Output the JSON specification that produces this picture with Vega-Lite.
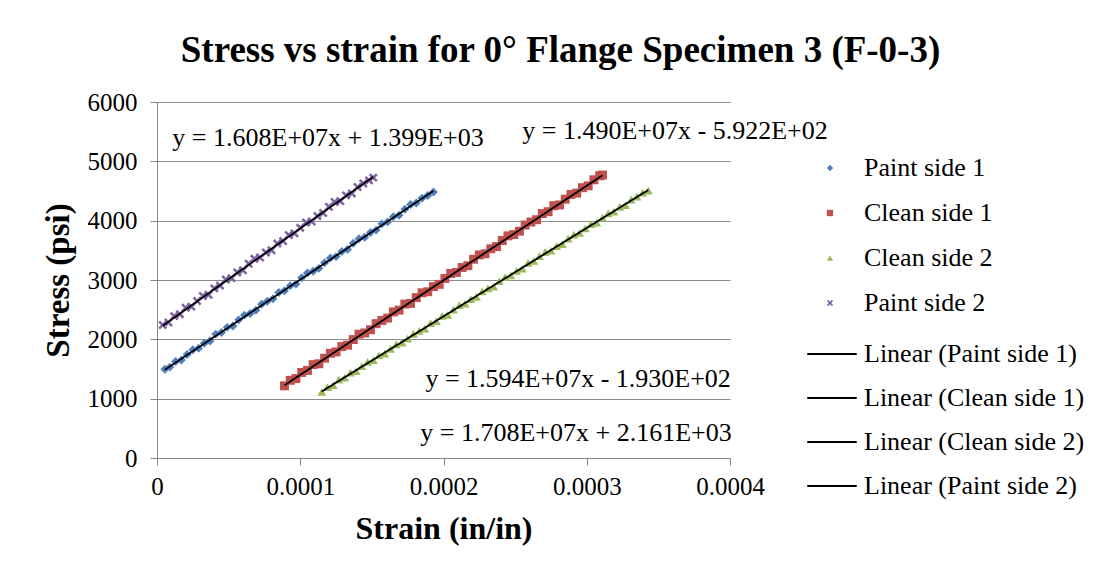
{
  "$schema": "https://vega.github.io/schema/vega-lite/v6.json",
  "width": 573,
  "height": 356,
  "autosize": {"type": "none"},
  "padding": {"left": 157, "top": 102, "right": 388, "bottom": 121},
  "background": "white",
  "config": {
    "font": "Liberation Serif",
    "view": {"stroke": null},
    "axis": {"labelFont": "Liberation Serif", "titleFont": "Liberation Serif", "labelColor": "black", "titleColor": "black"},
    "legend": {"labelFont": "Liberation Serif", "labelColor": "black", "labelLimit": 400}
  },
  "title": {
    "text": "Stress vs strain for 0° Flange Specimen 3 (F-0-3)",
    "font": "Liberation Serif",
    "fontSize": 37,
    "fontWeight": "bold",
    "color": "black",
    "anchor": "middle",
    "dx": 117,
    "offset": 20
  },
  "datasets": {
    "pts": [
      {"s":"Paint side 1","x":5.5e-6,"y":1497},{"s":"Paint side 1","x":9e-6,"y":1532},{"s":"Paint side 1","x":13e-6,"y":1626},{"s":"Paint side 1","x":17e-6,"y":1652},
      {"s":"Paint side 1","x":21e-6,"y":1745},{"s":"Paint side 1","x":25e-6,"y":1826},{"s":"Paint side 1","x":29e-6,"y":1850},{"s":"Paint side 1","x":33e-6,"y":1935},
      {"s":"Paint side 1","x":37e-6,"y":1972},{"s":"Paint side 1","x":41e-6,"y":2088},{"s":"Paint side 1","x":45e-6,"y":2115},{"s":"Paint side 1","x":49e-6,"y":2202},
      {"s":"Paint side 1","x":53e-6,"y":2226},{"s":"Paint side 1","x":57e-6,"y":2328},{"s":"Paint side 1","x":61e-6,"y":2408},{"s":"Paint side 1","x":65e-6,"y":2434},
      {"s":"Paint side 1","x":69e-6,"y":2489},{"s":"Paint side 1","x":73e-6,"y":2591},{"s":"Paint side 1","x":77e-6,"y":2642},{"s":"Paint side 1","x":81e-6,"y":2683},
      {"s":"Paint side 1","x":85e-6,"y":2788},{"s":"Paint side 1","x":89e-6,"y":2818},{"s":"Paint side 1","x":93e-6,"y":2904},{"s":"Paint side 1","x":97e-6,"y":2934},
      {"s":"Paint side 1","x":101e-6,"y":3038},{"s":"Paint side 1","x":105e-6,"y":3117},{"s":"Paint side 1","x":109e-6,"y":3147},{"s":"Paint side 1","x":113e-6,"y":3196},
      {"s":"Paint side 1","x":117e-6,"y":3292},{"s":"Paint side 1","x":121e-6,"y":3370},{"s":"Paint side 1","x":125e-6,"y":3394},{"s":"Paint side 1","x":129e-6,"y":3481},
      {"s":"Paint side 1","x":133e-6,"y":3516},{"s":"Paint side 1","x":137e-6,"y":3620},{"s":"Paint side 1","x":141e-6,"y":3696},{"s":"Paint side 1","x":145e-6,"y":3721},
      {"s":"Paint side 1","x":149e-6,"y":3800},{"s":"Paint side 1","x":153e-6,"y":3841},{"s":"Paint side 1","x":157e-6,"y":3946},{"s":"Paint side 1","x":161e-6,"y":3980},
      {"s":"Paint side 1","x":165e-6,"y":4067},{"s":"Paint side 1","x":169e-6,"y":4092},{"s":"Paint side 1","x":173e-6,"y":4191},{"s":"Paint side 1","x":177e-6,"y":4273},
      {"s":"Paint side 1","x":181e-6,"y":4297},{"s":"Paint side 1","x":185e-6,"y":4379},{"s":"Paint side 1","x":189e-6,"y":4423},{"s":"Paint side 1","x":193e-6,"y":4482},

      {"s":"Paint side 2","x":4e-6,"y":2241},{"s":"Paint side 2","x":8e-6,"y":2283},{"s":"Paint side 2","x":12e-6,"y":2391},{"s":"Paint side 2","x":16e-6,"y":2424},
      {"s":"Paint side 2","x":20e-6,"y":2533},{"s":"Paint side 2","x":24e-6,"y":2551},{"s":"Paint side 2","x":28e-6,"y":2647},{"s":"Paint side 2","x":32e-6,"y":2730},
      {"s":"Paint side 2","x":36e-6,"y":2751},{"s":"Paint side 2","x":40e-6,"y":2859},{"s":"Paint side 2","x":44e-6,"y":2908},{"s":"Paint side 2","x":48e-6,"y":3009},
      {"s":"Paint side 2","x":52e-6,"y":3031},{"s":"Paint side 2","x":56e-6,"y":3128},{"s":"Paint side 2","x":60e-6,"y":3164},{"s":"Paint side 2","x":64e-6,"y":3274},
      {"s":"Paint side 2","x":68e-6,"y":3357},{"s":"Paint side 2","x":72e-6,"y":3379},{"s":"Paint side 2","x":76e-6,"y":3464},{"s":"Paint side 2","x":80e-6,"y":3502},
      {"s":"Paint side 2","x":84e-6,"y":3614},{"s":"Paint side 2","x":88e-6,"y":3656},{"s":"Paint side 2","x":92e-6,"y":3757},{"s":"Paint side 2","x":96e-6,"y":3786},
      {"s":"Paint side 2","x":100e-6,"y":3879},{"s":"Paint side 2","x":104e-6,"y":3967},{"s":"Paint side 2","x":108e-6,"y":3986},{"s":"Paint side 2","x":112e-6,"y":4079},
      {"s":"Paint side 2","x":116e-6,"y":4130},{"s":"Paint side 2","x":120e-6,"y":4233},{"s":"Paint side 2","x":124e-6,"y":4314},{"s":"Paint side 2","x":128e-6,"y":4329},
      {"s":"Paint side 2","x":132e-6,"y":4426},{"s":"Paint side 2","x":136e-6,"y":4459},{"s":"Paint side 2","x":140e-6,"y":4567},{"s":"Paint side 2","x":144e-6,"y":4626},
      {"s":"Paint side 2","x":148e-6,"y":4679},{"s":"Paint side 2","x":151e-6,"y":4725},

      {"s":"Clean side 1","x":89e-6,"y":1216},{"s":"Clean side 1","x":93e-6,"y":1309},{"s":"Clean side 1","x":97e-6,"y":1338},{"s":"Clean side 1","x":101e-6,"y":1442},
      {"s":"Clean side 1","x":105e-6,"y":1476},{"s":"Clean side 1","x":109e-6,"y":1574},{"s":"Clean side 1","x":113e-6,"y":1588},{"s":"Clean side 1","x":117e-6,"y":1682},
      {"s":"Clean side 1","x":121e-6,"y":1764},{"s":"Clean side 1","x":125e-6,"y":1788},{"s":"Clean side 1","x":129e-6,"y":1878},{"s":"Clean side 1","x":133e-6,"y":1902},
      {"s":"Clean side 1","x":137e-6,"y":1996},{"s":"Clean side 1","x":141e-6,"y":2087},{"s":"Clean side 1","x":145e-6,"y":2108},{"s":"Clean side 1","x":149e-6,"y":2162},
      {"s":"Clean side 1","x":153e-6,"y":2264},{"s":"Clean side 1","x":157e-6,"y":2318},{"s":"Clean side 1","x":161e-6,"y":2358},{"s":"Clean side 1","x":165e-6,"y":2462},
      {"s":"Clean side 1","x":169e-6,"y":2493},{"s":"Clean side 1","x":173e-6,"y":2595},{"s":"Clean side 1","x":177e-6,"y":2606},{"s":"Clean side 1","x":181e-6,"y":2704},
      {"s":"Clean side 1","x":185e-6,"y":2784},{"s":"Clean side 1","x":189e-6,"y":2802},{"s":"Clean side 1","x":193e-6,"y":2888},{"s":"Clean side 1","x":197e-6,"y":2927},
      {"s":"Clean side 1","x":201e-6,"y":3026},{"s":"Clean side 1","x":205e-6,"y":3110},{"s":"Clean side 1","x":209e-6,"y":3128},{"s":"Clean side 1","x":213e-6,"y":3210},
      {"s":"Clean side 1","x":217e-6,"y":3241},{"s":"Clean side 1","x":221e-6,"y":3350},{"s":"Clean side 1","x":225e-6,"y":3423},{"s":"Clean side 1","x":229e-6,"y":3442},
      {"s":"Clean side 1","x":233e-6,"y":3526},{"s":"Clean side 1","x":237e-6,"y":3563},{"s":"Clean side 1","x":241e-6,"y":3666},{"s":"Clean side 1","x":245e-6,"y":3744},
      {"s":"Clean side 1","x":249e-6,"y":3766},{"s":"Clean side 1","x":253e-6,"y":3822},{"s":"Clean side 1","x":257e-6,"y":3926},{"s":"Clean side 1","x":261e-6,"y":3977},
      {"s":"Clean side 1","x":265e-6,"y":4016},{"s":"Clean side 1","x":269e-6,"y":4120},{"s":"Clean side 1","x":273e-6,"y":4151},{"s":"Clean side 1","x":277e-6,"y":4252},
      {"s":"Clean side 1","x":281e-6,"y":4266},{"s":"Clean side 1","x":285e-6,"y":4362},{"s":"Clean side 1","x":289e-6,"y":4442},{"s":"Clean side 1","x":293e-6,"y":4465},
      {"s":"Clean side 1","x":297e-6,"y":4556},{"s":"Clean side 1","x":301e-6,"y":4587},{"s":"Clean side 1","x":305e-6,"y":4689},{"s":"Clean side 1","x":309e-6,"y":4757},
      {"s":"Clean side 1","x":311e-6,"y":4769},

      {"s":"Clean side 2","x":115e-6,"y":1113},{"s":"Clean side 2","x":119e-6,"y":1196},{"s":"Clean side 2","x":123e-6,"y":1228},{"s":"Clean side 2","x":127e-6,"y":1320},
      {"s":"Clean side 2","x":131e-6,"y":1355},{"s":"Clean side 2","x":135e-6,"y":1437},{"s":"Clean side 2","x":139e-6,"y":1464},{"s":"Clean side 2","x":143e-6,"y":1548},
      {"s":"Clean side 2","x":147e-6,"y":1620},{"s":"Clean side 2","x":151e-6,"y":1648},{"s":"Clean side 2","x":155e-6,"y":1729},{"s":"Clean side 2","x":159e-6,"y":1759},
      {"s":"Clean side 2","x":163e-6,"y":1841},{"s":"Clean side 2","x":167e-6,"y":1916},{"s":"Clean side 2","x":171e-6,"y":1944},{"s":"Clean side 2","x":175e-6,"y":2010},
      {"s":"Clean side 2","x":179e-6,"y":2090},{"s":"Clean side 2","x":183e-6,"y":2142},{"s":"Clean side 2","x":187e-6,"y":2179},{"s":"Clean side 2","x":191e-6,"y":2272},
      {"s":"Clean side 2","x":195e-6,"y":2305},{"s":"Clean side 2","x":199e-6,"y":2395},{"s":"Clean side 2","x":203e-6,"y":2414},{"s":"Clean side 2","x":207e-6,"y":2502},
      {"s":"Clean side 2","x":211e-6,"y":2577},{"s":"Clean side 2","x":215e-6,"y":2601},{"s":"Clean side 2","x":219e-6,"y":2676},{"s":"Clean side 2","x":223e-6,"y":2715},
      {"s":"Clean side 2","x":227e-6,"y":2808},{"s":"Clean side 2","x":231e-6,"y":2858},{"s":"Clean side 2","x":235e-6,"y":2889},{"s":"Clean side 2","x":239e-6,"y":2981},
      {"s":"Clean side 2","x":243e-6,"y":3050},{"s":"Clean side 2","x":247e-6,"y":3078},{"s":"Clean side 2","x":251e-6,"y":3153},{"s":"Clean side 2","x":255e-6,"y":3192},
      {"s":"Clean side 2","x":259e-6,"y":3287},{"s":"Clean side 2","x":263e-6,"y":3321},{"s":"Clean side 2","x":267e-6,"y":3401},{"s":"Clean side 2","x":271e-6,"y":3476},
      {"s":"Clean side 2","x":275e-6,"y":3493},{"s":"Clean side 2","x":279e-6,"y":3573},{"s":"Clean side 2","x":283e-6,"y":3606},{"s":"Clean side 2","x":287e-6,"y":3696},
      {"s":"Clean side 2","x":291e-6,"y":3766},{"s":"Clean side 2","x":295e-6,"y":3793},{"s":"Clean side 2","x":299e-6,"y":3868},{"s":"Clean side 2","x":303e-6,"y":3940},
      {"s":"Clean side 2","x":307e-6,"y":3967},{"s":"Clean side 2","x":311e-6,"y":4052},{"s":"Clean side 2","x":315e-6,"y":4121},{"s":"Clean side 2","x":319e-6,"y":4153},
      {"s":"Clean side 2","x":323e-6,"y":4232},{"s":"Clean side 2","x":327e-6,"y":4262},{"s":"Clean side 2","x":331e-6,"y":4355},{"s":"Clean side 2","x":335e-6,"y":4404},
      {"s":"Clean side 2","x":339e-6,"y":4471},{"s":"Clean side 2","x":343e-6,"y":4508}
    ],
    "fits": [
      {"t":"Linear (Paint side 1)","x":5.5e-6,"y":1487},{"t":"Linear (Paint side 1)","x":193e-6,"y":4502},
      {"t":"Linear (Clean side 1)","x":89e-6,"y":1226},{"t":"Linear (Clean side 1)","x":311e-6,"y":4764},
      {"t":"Linear (Clean side 2)","x":115e-6,"y":1121},{"t":"Linear (Clean side 2)","x":343e-6,"y":4518},
      {"t":"Linear (Paint side 2)","x":4e-6,"y":2229},{"t":"Linear (Paint side 2)","x":151e-6,"y":4740}
    ],
    "eqs": [
      {"label":"y = 1.608E+07x + 1.399E+03","x":0.0001194,"y":5390},
      {"label":"y = 1.490E+07x - 5.922E+02","x":0.0003616,"y":5510},
      {"label":"y = 1.594E+07x - 1.930E+02","x":0.000294,"y":1330},
      {"label":"y = 1.708E+07x + 2.161E+03","x":0.0002925,"y":420}
    ]
  },
  "layer": [
    {
      "data": {"name": "pts"},
      "mark": {"type": "point", "filled": true, "size": 80, "opacity": 1},
      "encoding": {
        "x": {
          "field": "x", "type": "quantitative",
          "scale": {"domain": [0, 0.0004], "nice": false},
          "axis": {
            "title": "Strain (in/in)", "values": [0, 0.0001, 0.0002, 0.0003, 0.0004],
            "format": "~g", "grid": false,
            "labelFontSize": 25, "titleFontSize": 32, "titleFontWeight": "bold",
            "domainColor": "#868686", "tickColor": "#868686", "tickSize": 7,
            "labelPadding": 9, "titlePadding": 14, "labelFlush": false
          }
        },
        "y": {
          "field": "y", "type": "quantitative",
          "scale": {"domain": [0, 6000], "nice": false},
          "axis": {
            "title": "Stress (psi)", "values": [0, 1000, 2000, 3000, 4000, 5000, 6000],
            "format": "d", "grid": true, "gridColor": "#8c8c8c",
            "labelFontSize": 25, "titleFontSize": 33, "titleFontWeight": "bold",
            "domainColor": "#868686", "tickColor": "#868686", "tickSize": 7,
            "labelPadding": 13, "titlePadding": 12, "labelFlush": false
          }
        },
        "color": {
          "field": "s", "type": "nominal",
          "scale": {"domain": ["Paint side 1", "Clean side 1", "Clean side 2", "Paint side 2"],
                    "range": ["#4F81BD", "#C0504D", "#9BBB59", "#8064A2"]},
          "legend": {
            "title": null, "orient": "none", "legendX": 660, "legendY": 53,
            "labelFontSize": 26, "labelOffset": 21, "rowPadding": 19, "symbolSize": 40, "padding": 0
          }
        },
        "shape": {
          "field": "s", "type": "nominal",
          "scale": {"domain": ["Paint side 1", "Clean side 1", "Clean side 2", "Paint side 2"],
                    "range": ["diamond", "square", "triangle-up", "M-1,-0.6L-0.6,-1L0,-0.4L0.6,-1L1,-0.6L0.4,0L1,0.6L0.6,1L0,0.4L-0.6,1L-1,0.6L-0.4,0Z"]},
          "legend": {
            "title": null, "orient": "none", "legendX": 660, "legendY": 53,
            "labelFontSize": 26, "labelOffset": 21, "rowPadding": 19, "symbolSize": 40, "padding": 0
          }
        }
      }
    },
    {
      "data": {"name": "fits"},
      "mark": {"type": "line", "strokeWidth": 1.8, "color": "black"},
      "encoding": {
        "x": {"field": "x", "type": "quantitative"},
        "y": {"field": "y", "type": "quantitative"},
        "strokeDash": {
          "field": "t", "type": "nominal",
          "scale": {"domain": ["Linear (Paint side 1)", "Linear (Clean side 1)", "Linear (Clean side 2)", "Linear (Paint side 2)"],
                    "range": [[1, 0], [1, 0], [1, 0], [1, 0]]},
          "legend": {
            "title": null, "orient": "none", "legendX": 649, "legendY": 226,
            "labelFontSize": 26, "labelOffset": 6, "rowPadding": 5,
            "symbolType": "stroke", "symbolSize": 2450, "symbolStrokeWidth": 2, "symbolStrokeColor": "black", "padding": 0
          }
        }
      }
    },
    {
      "data": {"name": "eqs"},
      "mark": {"type": "text", "fontSize": 26, "font": "Liberation Serif", "color": "black", "align": "center", "baseline": "middle"},
      "encoding": {
        "x": {"field": "x", "type": "quantitative"},
        "y": {"field": "y", "type": "quantitative"},
        "text": {"field": "label"}
      }
    }
  ]
}
